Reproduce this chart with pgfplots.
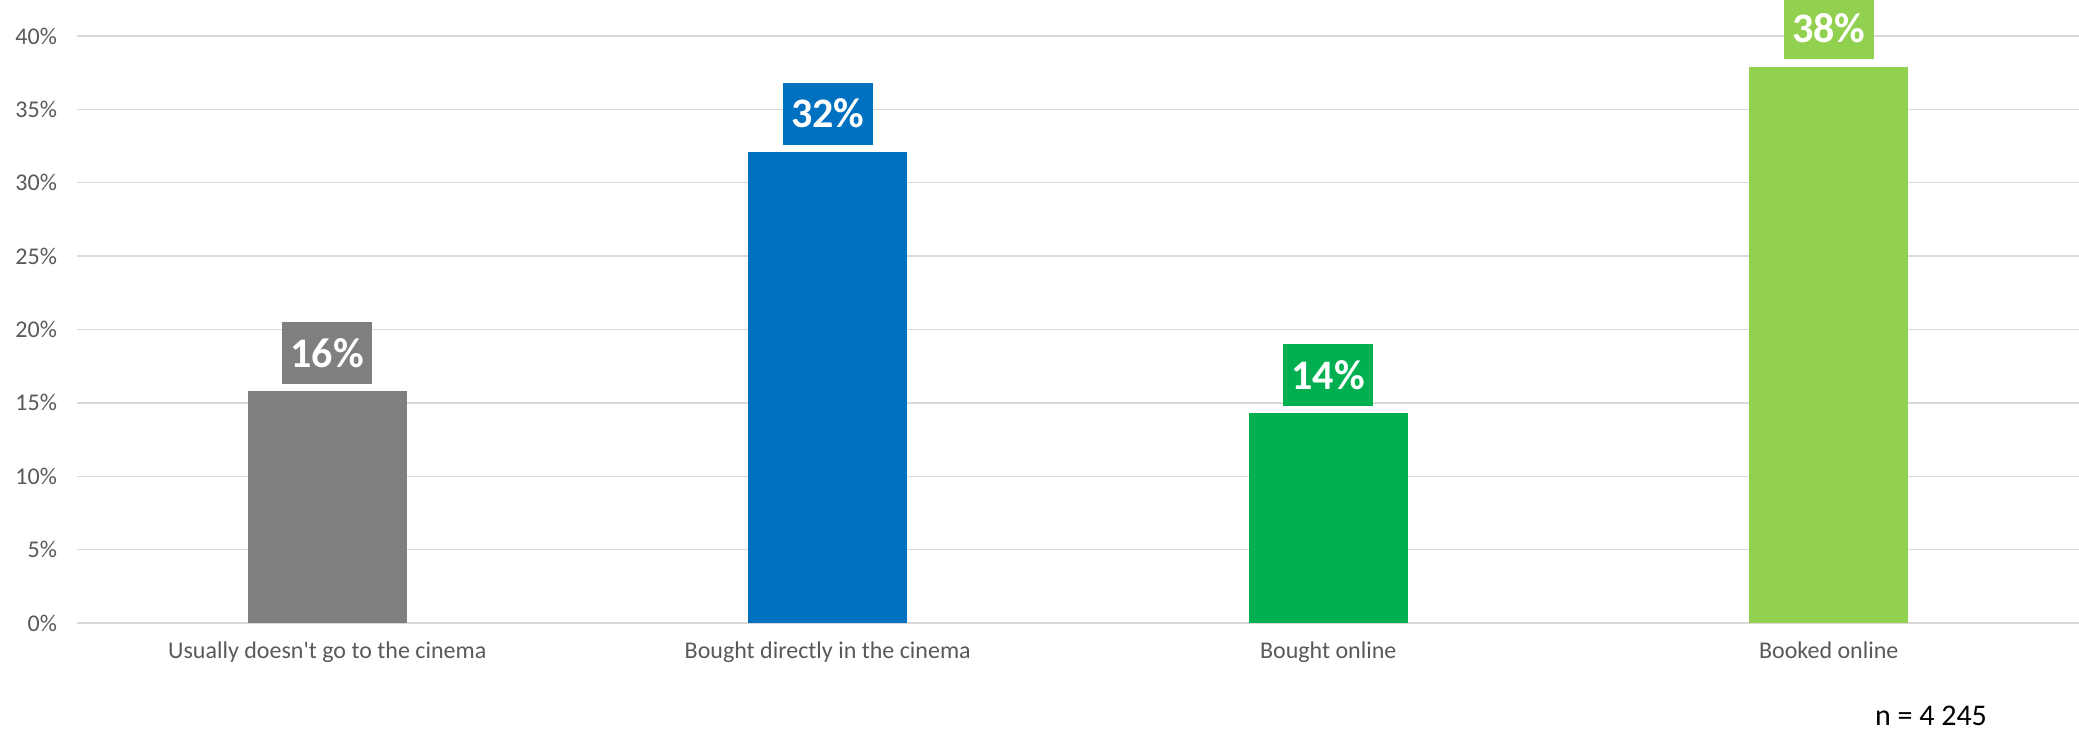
\documentclass[border=0pt]{standalone}
\usepackage{fontspec}
\setmainfont{Carlito}
\usepackage{pgfplots}
\pgfplotsset{compat=1.18}
\definecolor{bargray}{HTML}{7F7F7F}
\definecolor{barblue}{HTML}{0070C0}
\definecolor{bargreen}{HTML}{00B050}
\definecolor{barlime}{HTML}{92D050}
\definecolor{gridgray}{HTML}{D9D9D9}
\definecolor{labelgray}{HTML}{595959}
\begin{document}
\begin{tikzpicture}
\path[use as bounding box] (-38.5pt,-54pt) rectangle (1001pt,311.5pt);
\begin{axis}[
    at={(0,0)}, anchor=south west,
    scale only axis,
    width=1001pt, height=293.5pt,
    ybar, bar width=79.5pt, bar shift=0pt,
    xmin=-0.5, xmax=3.5,
    ymin=0, ymax=40,
    ytick={0,5,...,40},
    yticklabel={\pgfmathprintnumber{\tick}\%},
    /pgf/number format/assume math mode=true,
    xtick={0,1,2,3},
    xticklabels={Usually doesn\textquotesingle t go to the cinema, Bought directly in the cinema, Bought online, Booked online},
    major tick length=0pt,
    axis line style={draw=none},
    ymajorgrids,
    grid style={gridgray, line width=0.7pt},
    ticklabel style={font=\fontsize{12}{14}\selectfont, text=labelgray},
    yticklabel style={xshift=-6.5pt},
    xticklabel style={yshift=-6pt},
    clip=false,
    nodes near coords={\pgfmathprintnumber[fixed,precision=0]{\pgfplotspointmeta}\%},
    every node near coord/.append style={anchor=south, yshift=3.5pt, inner sep=0pt,
        minimum width=45pt, minimum height=31pt, text=white,
        font=\fontsize{21}{24}\selectfont\bfseries},
]
\addplot[fill=bargray, draw=none, every node near coord/.append style={fill=bargray}] coordinates {(0,15.8)};
\addplot[fill=barblue, draw=none, every node near coord/.append style={fill=barblue}] coordinates {(1,32.1)};
\addplot[fill=bargreen, draw=none, every node near coord/.append style={fill=bargreen}] coordinates {(2,14.3)};
\addplot[fill=barlime, draw=none, every node near coord/.append style={fill=barlime}] coordinates {(3,37.9)};
\end{axis}
\node[font=\fontsize{15}{17}\selectfont, text=black] at (927pt,-46.5pt) {n = 4 245};
\end{tikzpicture}
\end{document}
